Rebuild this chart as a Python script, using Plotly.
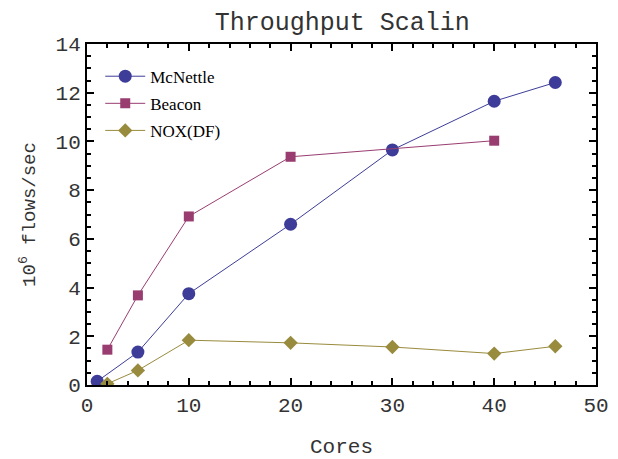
import plotly.graph_objects as go

title_text = "Throughput Scalin"
x_title = "Cores"
y_title = "10<sup>6</sup> flows/sec"

mcnettle_cores = [1, 5, 10, 20, 30, 40, 46]
mcnettle_vals = [0.15, 1.35, 3.75, 6.6, 9.65, 11.65, 12.42]

beacon_cores = [2, 5, 10, 20, 40]
beacon_vals = [1.45, 3.68, 6.92, 9.37, 10.03]

nox_cores = [2, 5, 10, 20, 30, 40, 46]
nox_vals = [0.05, 0.6, 1.84, 1.73, 1.56, 1.29, 1.59]

x_ticks = [0, 10, 20, 30, 40, 50]
y_ticks = [0, 2, 4, 6, 8, 10, 12, 14]

mono = "Liberation Mono, Courier New, monospace"
serif = "Liberation Serif, Times New Roman, serif"
txt_color = "#333333"

fig = go.Figure()
fig.add_trace(go.Scatter(
    x=mcnettle_cores, y=mcnettle_vals, name="McNettle", mode="lines+markers",
    line=dict(color="#3D3D99", width=1),
    marker=dict(symbol="circle", size=13, color="#3D3D99"),
    legendgroup="a"))
fig.add_trace(go.Scatter(
    x=beacon_cores, y=beacon_vals, name="Beacon", mode="lines+markers",
    line=dict(color="#993D71", width=1),
    marker=dict(symbol="square", size=10, color="#993D71"),
    legendgroup="b"))
fig.add_trace(go.Scatter(
    x=nox_cores, y=nox_vals, name="NOX(DF)", mode="lines+markers",
    line=dict(color="#998B3D", width=1),
    marker=dict(symbol="diamond", size=11, color="#998B3D"),
    legendgroup="c"))

axis_common = dict(
    showline=True, linecolor="black", linewidth=2, mirror="allticks",
    ticks="inside", tickcolor="black", tickwidth=2,
    showgrid=False, zeroline=False, automargin=False,
    tickfont=dict(family=mono, size=21, color=txt_color),
)

fig.update_xaxes(
    range=[0, 50], tickvals=x_ticks, ticklen=7,
    minor=dict(dtick=2, ticks="inside", ticklen=4, tickcolor="black", tickwidth=1.5),
    title=dict(text=x_title, font=dict(family=mono, size=21, color=txt_color), standoff=22),
    **axis_common)
fig.update_yaxes(
    range=[0, 14], tickvals=y_ticks, ticklen=7,
    minor=dict(dtick=0.5, ticks="inside", ticklen=4, tickcolor="black", tickwidth=1.5),
    title=dict(text=y_title, font=dict(family=mono, size=19, color=txt_color), standoff=15),
    **axis_common)

fig.update_layout(
    width=610, height=451,
    margin=dict(l=79, r=22, t=36, b=74),
    paper_bgcolor="white", plot_bgcolor="white",
    title=dict(text=title_text, x=0.548, xanchor="center", y=0.971, yanchor="middle",
               font=dict(family=mono, size=25, color=txt_color)),
    showlegend=True,
    legend=dict(x=0.026, y=0.957, xanchor="left", yanchor="top",
                bgcolor="rgba(0,0,0,0)", font=dict(family=serif, size=17, color="black"),
                tracegroupgap=2, itemwidth=40),
)

fig.write_html("out.html")
